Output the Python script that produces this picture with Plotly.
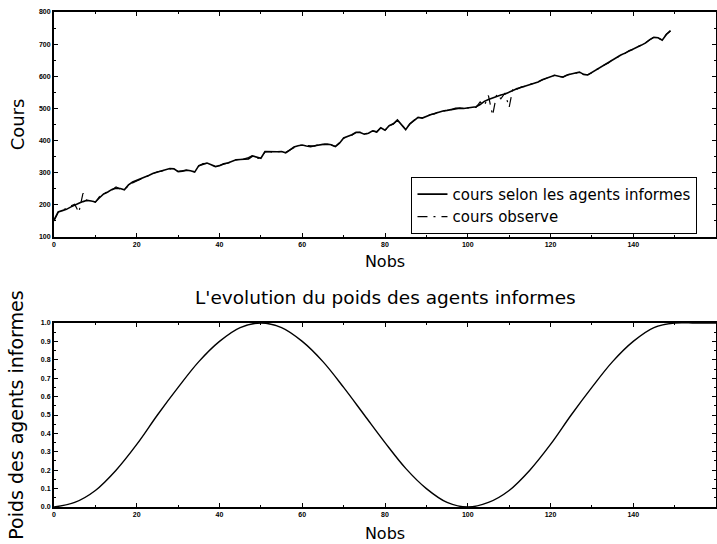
import plotly.graph_objects as go

# Price series: model price driven by the informed agents
nobs_informes = list(range(0, 150))
cours_informes = [
    153, 178, 182, 186, 193, 200, 205, 210, 214, 212,
    209, 222, 234, 240, 248, 252, 251, 247, 262, 271,
    276, 281, 285, 292, 298, 302, 306, 309, 313, 312,
    303, 305, 308, 306, 302, 322, 327, 330, 325, 319,
    322, 328, 330, 335, 340, 341, 342, 343, 352, 348,
    345, 366, 365, 364, 365, 366, 362, 370, 380, 384,
    386, 383, 381, 384, 387, 388, 389, 387, 381, 392,
    408, 413, 418, 426, 425, 420, 423, 430, 427, 440,
    432, 446, 452, 464, 448, 434, 452, 462, 472, 470,
    476, 480, 484, 489, 492, 494, 497, 500, 501, 500,
    502, 503, 505, 512, 522, 528, 533, 538, 542, 545,
    551, 556, 562, 566, 570, 575, 578, 582, 589, 593,
    597, 603, 600, 597, 604, 608, 610, 613, 606, 604,
    612, 620, 626, 634, 642, 651, 658, 666, 672, 679,
    685, 691, 697, 704, 714, 721, 720, 712, 730, 742,
]

# Observed market price
nobs_observe = list(range(0, 150))
cours_observe = [
    150, 176, 184, 188, 196, 202, 176, 236, 212, 214,
    208, 226, 230, 244, 246, 256, 249, 250, 258, 268,
    274, 280, 286, 291, 297, 303, 305, 310, 312, 311,
    304, 306, 307, 305, 303, 321, 328, 329, 324, 320,
    323, 327, 331, 334, 341, 340, 343, 347, 354, 344,
    346, 365, 366, 363, 366, 365, 363, 371, 379, 385,
    385, 384, 382, 383, 388, 387, 390, 386, 382, 393,
    407, 414, 417, 425, 426, 421, 422, 431, 426, 441,
    431, 447, 451, 463, 449, 435, 451, 463, 471, 471,
    475, 481, 483, 490, 491, 495, 496, 501, 500, 501,
    501, 504, 503, 520, 508, 540, 478, 545, 530, 548,
    503, 568, 560, 567, 569, 576, 577, 583, 588, 594,
    596, 604, 599, 598, 603, 609, 609, 614, 605, 605,
    611, 621, 625, 635, 641, 652, 657, 667, 671, 680,
    684, 692, 696, 705, 713, 722, 719, 713, 731, 741,
]

# Weight of the informed agents over time
nobs_poids = [0, 5, 10, 15, 20, 25, 30, 35, 40, 45, 50, 55, 60, 65, 70, 75,
              80, 85, 90, 95, 100, 105, 110, 115, 120, 125, 130, 135, 140,
              145, 150, 155, 160]
poids = [0.0, 0.025, 0.09, 0.2, 0.34, 0.5, 0.65, 0.79, 0.9, 0.975, 1.0,
         0.975, 0.9, 0.79, 0.65, 0.5, 0.35, 0.21, 0.1, 0.025, 0.0,
         0.025, 0.09, 0.2, 0.34, 0.5, 0.65, 0.79, 0.9, 0.975, 1.0, 1.0, 1.0]

x_ticks = [0, 20, 40, 60, 80, 100, 120, 140, 160]
y_ticks_cours = [100, 200, 300, 400, 500, 600, 700, 800]
y_ticks_poids = [0.0, 0.1, 0.2, 0.3, 0.4, 0.5, 0.6, 0.7, 0.8, 0.9, 1.0]

FONT = "DejaVu Sans"
tick_font = dict(family="Liberation Sans", size=7, color="black", weight="bold")

fig = go.Figure()

fig.add_trace(go.Scatter(
    x=nobs_informes, y=cours_informes, mode="lines",
    name="cours selon les agents informes",
    line=dict(color="black", width=1.6),
    xaxis="x", yaxis="y",
))
fig.add_trace(go.Scatter(
    x=nobs_observe, y=cours_observe, mode="lines",
    name="cours observe",
    line=dict(color="black", width=1.2, dash="10px,6px,2px,6px"),
    xaxis="x", yaxis="y",
))
fig.add_trace(go.Scatter(
    x=nobs_poids, y=poids, mode="lines", line_shape="spline",
    line=dict(color="black", width=1.4),
    showlegend=False,
    xaxis="x2", yaxis="y2",
))

common_axis = dict(
    showgrid=False, zeroline=False, showline=True, linecolor="black",
    linewidth=2, mirror="ticks", ticks="inside", ticklen=4, tickwidth=1,
    tickcolor="black", tickfont=tick_font, automargin=False,
)

fig.update_layout(
    width=717, height=544,
    margin=dict(l=54, r=1, t=12, b=37),
    paper_bgcolor="white", plot_bgcolor="white",
    font=dict(family=FONT, color="black"),
    xaxis=dict(
        common_axis, domain=[0, 1], range=[0, 160], anchor="y",
        tickvals=x_ticks,
        minor=dict(ticks="inside", ticklen=2, dtick=10, tickcolor="black"),
        title=dict(text="Nobs", font=dict(family=FONT, size=16), standoff=8),
    ),
    yaxis=dict(
        common_axis, domain=[0.5455, 1], range=[100, 800], anchor="x",
        tickvals=y_ticks_cours,
        minor=dict(ticks="inside", ticklen=2, dtick=50, tickcolor="black"),
        title=dict(text="Cours", font=dict(family=FONT, size=18), standoff=10),
    ),
    xaxis2=dict(
        common_axis, domain=[0, 1], range=[0, 160], anchor="y2",
        tickvals=x_ticks,
        minor=dict(ticks="inside", ticklen=2, dtick=10, tickcolor="black"),
        title=dict(text="Nobs", font=dict(family=FONT, size=16), standoff=10),
    ),
    yaxis2=dict(
        common_axis, domain=[0, 0.3717], range=[0, 1], anchor="x2",
        tickvals=y_ticks_poids, tickformat=".1f",
        minor=dict(ticks="inside", ticklen=2, dtick=0.05, tickcolor="black"),
        title=dict(text="Poids des agents informes",
                   font=dict(family=FONT, size=19), standoff=12),
    ),
    legend=dict(
        x=0.54, y=0.667, xanchor="left", yanchor="top",
        bgcolor="white", bordercolor="black", borderwidth=1,
        font=dict(family=FONT, size=15, color="black"),
        tracegroupgap=0,
    ),
    annotations=[dict(
        text="L'evolution du poids des agents informes",
        xref="paper", yref="paper", x=0.5, y=0.4236,
        xanchor="center", yanchor="middle", showarrow=False,
        font=dict(family=FONT, size=18.5, color="black"),
    )],
)

fig.write_html("out.html")
